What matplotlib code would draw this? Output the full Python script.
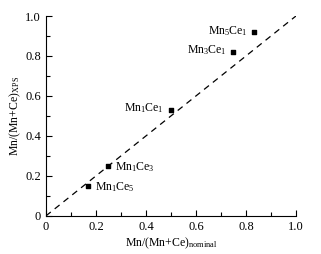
import matplotlib
matplotlib.use("Agg")
import matplotlib.pyplot as plt
from matplotlib.ticker import MultipleLocator

plt.rcParams['font.family'] = 'Liberation Serif'
plt.rcParams['mathtext.fontset'] = 'custom'
plt.rcParams['mathtext.rm'] = 'Liberation Serif'
plt.rcParams['mathtext.it'] = 'Liberation Serif:italic'

# data
nominal = [1/6, 0.25, 0.5, 0.75, 5/6]
xps = [0.15, 0.25, 0.53, 0.82, 0.92]
labels = [r'Mn$_1$Ce$_5$', r'Mn$_1$Ce$_3$', r'Mn$_1$Ce$_1$', r'Mn$_3$Ce$_1$', r'Mn$_5$Ce$_1$']
sides = ['right', 'right', 'left', 'left', 'left']

fig = plt.figure(figsize=(3.21, 2.54), dpi=100)
ax = fig.add_axes([0.143, 0.15, 0.779, 0.787])

ax.plot([0, 1], [0, 1], color='black', linestyle=(0, (5, 4)), lw=0.9)
ax.scatter(nominal, xps, marker='s', s=9, color='black', zorder=3)

for x, y, lab, side in zip(nominal, xps, labels, sides):
    if side == 'right':
        ax.annotate(lab, (x, y), xytext=(5, -1), textcoords='offset points',
                    ha='left', va='center', fontsize=8.5)
    else:
        ax.annotate(lab, (x, y), xytext=(-5, 1), textcoords='offset points',
                    ha='right', va='center', fontsize=8.5)

ax.set_xlim(0, 1)
ax.set_ylim(0, 1)
ax.spines['top'].set_visible(False)
ax.spines['right'].set_visible(False)
ax.xaxis.set_major_locator(MultipleLocator(0.2))
ax.xaxis.set_minor_locator(MultipleLocator(0.1))
ax.yaxis.set_major_locator(MultipleLocator(0.2))
ax.yaxis.set_minor_locator(MultipleLocator(0.1))
ax.tick_params(which='both', direction='in', labelsize=9, width=0.8)
ax.tick_params(which='major', length=4)
ax.tick_params(which='minor', length=3)

fmt = lambda v, p: '0' if abs(v) < 1e-9 else f'{v:.1f}'
ax.xaxis.set_major_formatter(fmt)
ax.yaxis.set_major_formatter(fmt)

ax.set_xlabel(r'Mn/(Mn+Ce)$_{\mathrm{nominal}}$', fontsize=8.5, labelpad=2)
ax.set_ylabel(r'Mn/(Mn+Ce)$_{\mathrm{XPS}}$', fontsize=8.5, labelpad=2)

fig.savefig('out.png', dpi=100)
